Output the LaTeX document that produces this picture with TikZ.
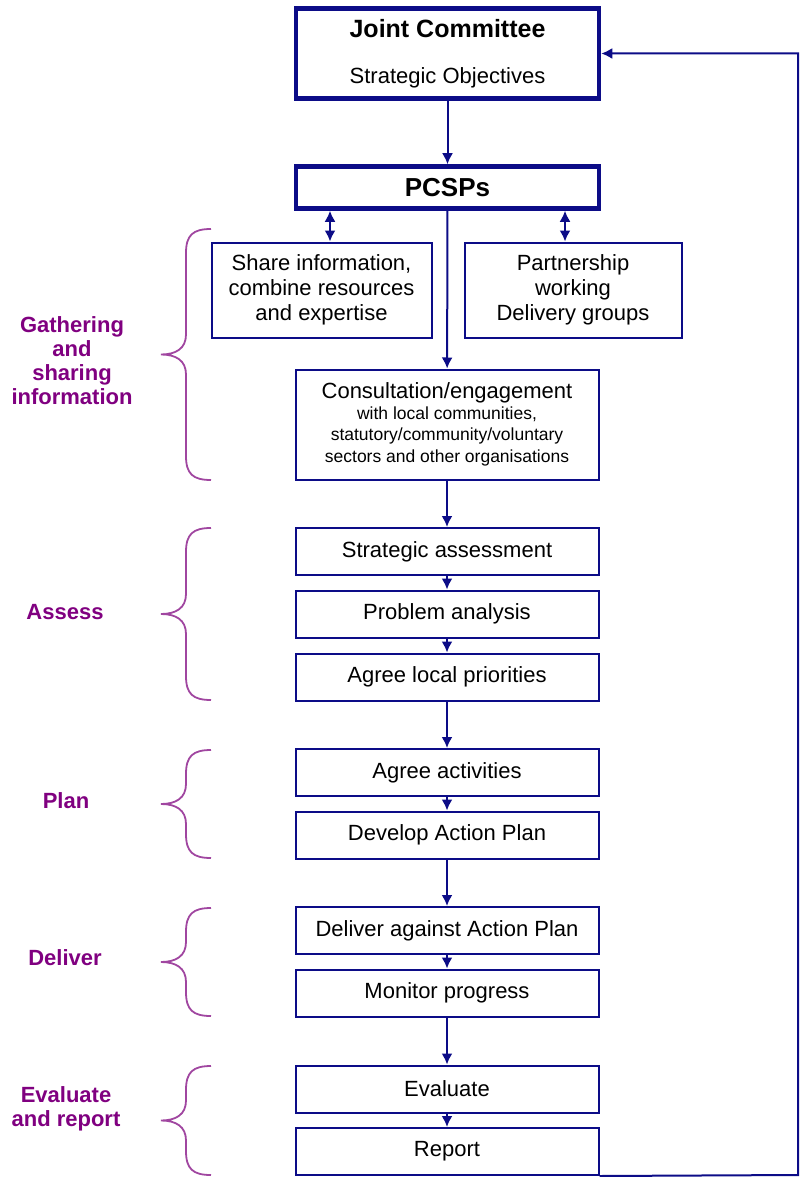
\documentclass[tikz,border=0pt]{standalone}
\usepackage{fontspec}
\setmainfont{Liberation Sans}
\usetikzlibrary{arrows.meta}
\definecolor{boxblue}{RGB}{12,12,135}
\definecolor{bracepurple}{RGB}{160,70,160}
\definecolor{labelpurple}{RGB}{128,0,128}
% curly bracket from y=#1 down to y=#2
\newcommand{\stagebrace}[2]{%
  \draw[bracket] (211,#1) .. controls (193,#1) and (186,{#1+6}) .. (186,{#1+24})
    -- (186,{(#1+#2)/2-20}) .. controls (186,{(#1+#2)/2-6}) and (176,{(#1+#2)/2}) .. (161,{(#1+#2)/2})
    .. controls (176,{(#1+#2)/2}) and (186,{(#1+#2)/2+6}) .. (186,{(#1+#2)/2+20})
    -- (186,{#2-24}) .. controls (186,{#2-6}) and (193,#2) .. (211,#2);}
\newcommand{\smalltext}{\fontsize{17.5}{21}\selectfont}

\begin{document}
\begin{tikzpicture}[x=1pt,y=-1pt,
    box/.style={draw=boxblue, line width=2pt, minimum width=303pt, minimum height=47pt,
      inner sep=0pt, align=center, font=\fontsize{22}{25}\selectfont},
    mainbox/.style={box, line width=4.5pt},
    flow/.style={draw=boxblue, line width=2pt, -{Latex[length=11pt,width=11pt]}},
    twoway/.style={flow, {Latex[length=11pt,width=11pt]}-{Latex[length=11pt,width=11pt]}},
    stage/.style={text=labelpurple, align=center, font=\bfseries\fontsize{22}{24}\selectfont},
    bracket/.style={draw=bracepurple, line width=1.8pt}]
  \useasboundingbox (0,0) rectangle (800,1177);

  \node [mainbox, minimum height=90pt] (jc) at (447.5,53.5)
    {{\bfseries\fontsize{25}{28}\selectfont Joint Committee}\\[21pt]Strategic Objectives};
  \node [mainbox, minimum height=42pt] (pcsp) at (447.5,187.5)
    {\bfseries\fontsize{26}{28}\selectfont PCSPs};
  \node [box, minimum width=220pt, minimum height=95pt] (share) at (321.5,290)
    {Share information,\\combine resources\\and expertise};
  \node [box, minimum width=217pt, minimum height=95pt] (partner) at (573,290)
    {Partnership\\working\\Delivery groups};
  \node [box, minimum height=110pt] (consult) at (447,424.5)
    {Consultation/engagement\\[-4pt]\smalltext with local communities,\\[-4pt]\smalltext statutory/community/voluntary\\[-3pt]\smalltext sectors and other organisations};
  \node [box] (sassess) at (447,551.5) {Strategic assessment};
  \node [box] (problem) at (447,614) {Problem analysis};
  \node [box] (priorities) at (447,677) {Agree local priorities};
  \node [box] (activities) at (447,772.5) {Agree activities};
  \node [box] (actionplan) at (447,835) {Develop Action Plan};
  \node [box] (deliver) at (447,930.5) {Deliver against Action Plan};
  \node [box] (monitor) at (447,993) {Monitor progress};
  \node [box] (evaluate) at (447,1089) {Evaluate};
  \node [box] (report) at (447,1151.5) {Report};

  \draw [flow] (jc) -- (pcsp);
  \draw [twoway] ([xshift=8.5pt]share.north) -- ([xshift=8.5pt]share.north |- pcsp.south);
  \draw [twoway] ([xshift=-8pt]partner.north) -- ([xshift=-8pt]partner.north |- pcsp.south);
  \draw [flow] (pcsp) -- (consult);
  \draw [flow] (consult) -- (sassess);
  \draw [flow] (sassess) -- (problem);
  \draw [flow] (problem) -- (priorities);
  \draw [flow] (priorities) -- (activities);
  \draw [flow] (activities) -- (actionplan);
  \draw [flow] (actionplan) -- (deliver);
  \draw [flow] (deliver) -- (monitor);
  \draw [flow] (monitor) -- (evaluate);
  \draw [flow] (evaluate) -- (report);
  \coordinate (loop) at (798,1175);
  \draw [flow] (report.south east) -- (loop) |- (jc.east);

  \stagebrace{229}{480}
  \stagebrace{528}{700}
  \stagebrace{750}{858}
  \stagebrace{908}{1016}
  \stagebrace{1066}{1175}

  \node [stage] (lgather) at (72,361) {Gathering\\and\\sharing\\information};
  \node [stage] (lassess) at (65,612) {Assess};
  \node [stage] (lplan) at (66,801) {Plan};
  \node [stage] (ldeliver) at (65,958) {Deliver};
  \node [stage] (leval) at (66,1109) {Evaluate\\and report};
\end{tikzpicture}
\end{document}
